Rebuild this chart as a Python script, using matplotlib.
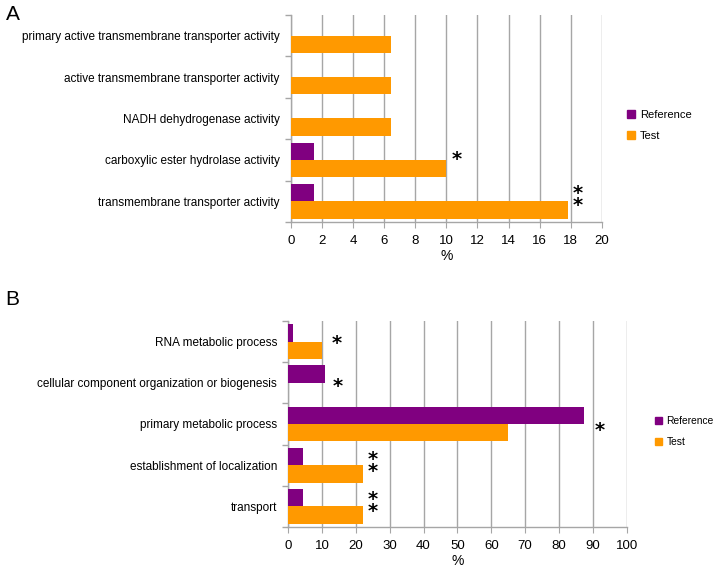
import matplotlib
matplotlib.use("Agg")
import matplotlib.pyplot as plt
from matplotlib.patches import Patch
import numpy as np

plt.rcParams['font.family'] = ['Liberation Sans', 'DejaVu Sans']

# Panel A data (top to bottom)
cats_a = ["primary active transmembrane transporter activity",
          "active transmembrane transporter activity",
          "NADH dehydrogenase activity",
          "carboxylic ester hydrolase activity",
          "transmembrane transporter activity"]
ref_a = [0, 0, 0, 1.5, 1.5]
test_a = [6.45, 6.45, 6.45, 10.0, 17.85]
# significance stars: (category index, x, count, vertical shift)
stars_a = [(3, 10.7, 1, 0.0), (4, 18.45, 2, 0.05)]

# Panel B data (top to bottom)
cats_b = ["RNA metabolic process",
          "cellular component organization or biogenesis",
          "primary metabolic process",
          "establishment of localization",
          "transport"]
ref_b = [1.5, 11.0, 87.5, 4.5, 4.5]
test_b = [10.0, 0, 65.0, 22.2, 22.2]
stars_b = [(0, 14.5, 1, -0.04), (1, 14.8, 1, -0.08), (2, 92, 1, -0.17),
           (3, 25, 2, -0.0), (4, 25, 2, 0.03)]

PURPLE = "#800080"
ORANGE = "#FF9900"
GRID = "#a6a6a6"

fig = plt.figure(figsize=(7.13, 5.71), dpi=100)

def draw(ax, cats, ref, test, xmax, step):
    n = len(cats)
    y = np.arange(n)[::-1].astype(float)
    h = 0.42
    ax.barh(y + h / 2, ref, height=h, color=PURPLE, zorder=3)
    ax.barh(y - h / 2, test, height=h, color=ORANGE, zorder=3)
    ax.set_xlim(0, xmax)
    ax.set_ylim(-0.5, n - 0.5)
    ax.set_xticks(np.arange(0, xmax + step / 2, step))
    ax.set_yticks(y)
    ax.set_yticklabels(cats, fontsize=8.5)
    ax.set_yticks(np.arange(-0.5, n, 1.0), minor=True)
    ax.tick_params(axis='y', which='major', length=0, pad=8)
    ax.tick_params(axis='y', which='minor', length=4, color=GRID, width=1)
    ax.tick_params(axis='x', length=4, color=GRID, labelsize=9.5, pad=5)
    ax.xaxis.grid(True, color=GRID, linewidth=1, zorder=0)
    for s in ['top', 'right']:
        ax.spines[s].set_visible(False)
    for s in ['left', 'bottom']:
        ax.spines[s].set_color(GRID)
        ax.spines[s].set_linewidth(1)
    ax.set_xlabel("%", fontsize=10, labelpad=2)
    return y

def put_stars(ax, yc, stars):
    for i, x, cnt, dy in stars:
        s = "\n".join(["*"] * cnt)
        ax.text(x, yc[i] + dy, s, ha='center', va='center', fontsize=14,
                fontweight='bold', family='DejaVu Sans', linespacing=0.55,
                zorder=4, clip_on=False)

axA = fig.add_axes([0.408, 0.611, 0.436, 0.363])
yA = draw(axA, cats_a, ref_a, test_a, 20, 2)
put_stars(axA, yA, stars_a)

axB = fig.add_axes([0.404, 0.077, 0.475, 0.361])
yB = draw(axB, cats_b, ref_b, test_b, 100, 10)
put_stars(axB, yB, stars_b)

handles = [Patch(color=PURPLE, label="Reference"), Patch(color=ORANGE, label="Test")]
fig.legend(handles=handles, loc='center left', bbox_to_anchor=(0.866, 0.78),
           frameon=False, fontsize=8, handlelength=0.7, handleheight=0.7,
           handletextpad=0.4, labelspacing=1.0)
fig.legend(handles=handles, loc='center left', bbox_to_anchor=(0.906, 0.244),
           frameon=False, fontsize=7.4, handlelength=0.7, handleheight=0.7,
           handletextpad=0.4, labelspacing=1.1)

fig.text(0.008, 0.975, "A", fontsize=15, va='center')
fig.text(0.008, 0.475, "B", fontsize=15, va='center')

fig.savefig("out.png", dpi=100)
